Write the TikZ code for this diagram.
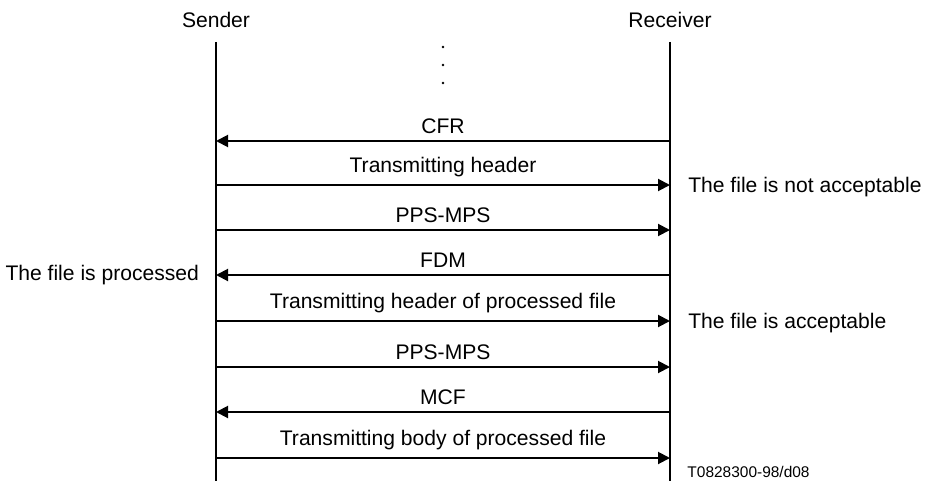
\documentclass[tikz,border=0pt]{standalone}
\usepackage{fontspec}
\setmainfont{Liberation Sans}
\usetikzlibrary{arrows.meta}

\begin{document}
\begin{tikzpicture}[font=\fontsize{15}{18}\selectfont,
	life/.style={line width=1.4pt},
	msg/.style={line width=1.4pt,-{Triangle[length=0.3cm,width=0.3cm]}},
	lbl/.style={above,inner sep=0.17cm},
	side/.style={inner sep=0pt}]
\useasboundingbox (0,0) rectangle (23.3,12.025);
\node (S) at (5.4,11.525) {Sender};
\node (R) at (16.75,11.525) {Receiver};
\coordinate (Stop) at (5.4,10.975);
\coordinate (Sbot) at (5.4,0);
\coordinate (Rtop) at (16.75,10.975);
\coordinate (Rbot) at (16.75,0);
\draw[life] (Stop) -- (Sbot);
\draw[life] (Rtop) -- (Rbot);
% dots
\fill (11.075,10.85) circle(0.035);
\fill (11.075,10.4) circle(0.035);
\fill (11.075,9.95) circle(0.035);
\foreach \i/\y in {1/8.5,2/7.4,3/6.275,4/5.15,5/4.0,6/2.85,7/1.725,8/0.575}{
	\coordinate (s\i) at (5.4,\y);
	\coordinate (r\i) at (16.75,\y);
}
\draw[msg] (r1) -- node[lbl] {CFR} (s1);
\draw[msg] (s2) -- node[lbl] {Transmitting header} (r2);
\draw[msg] (s3) -- node[lbl] {PPS-MPS} (r3);
\draw[msg] (r4) -- node[lbl] {FDM} (s4);
\draw[msg] (s5) -- node[lbl] {Transmitting header of processed file} (r5);
\draw[msg] (s6) -- node[lbl] {PPS-MPS} (r6);
\draw[msg] (r7) -- node[lbl] {MCF} (s7);
\draw[msg] (s8) -- node[lbl] {Transmitting body of processed file} (r8);
%\draw[help lines] (0,0) grid (23,12);
\node[side,anchor=west] (notok) at ([xshift=0.45cm,yshift=-0.05cm]r2) {The file is not acceptable};
\node[side,anchor=east] (proc) at ([xshift=-0.42cm]s4) {The file is processed};
\node[side,anchor=west] (ok) at ([xshift=0.45cm,yshift=-0.05cm]r5) {The file is acceptable};
\node[side,anchor=base west,font=\fontsize{11}{13}\selectfont] (ref) at (17.18,0.1) {T0828300-98/d08};
\end{tikzpicture}
\end{document}
